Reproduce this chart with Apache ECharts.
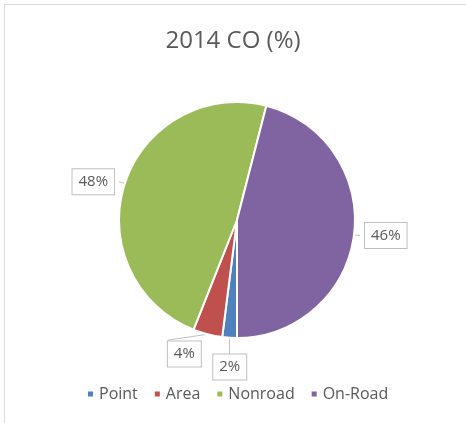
<!DOCTYPE html>
<html>
<head>
<meta charset="utf-8">
<script src="https://cdn.jsdelivr.net/npm/echarts@6/dist/echarts.min.js"></script>
<style>
  html, body { margin: 0; padding: 0; background: #fff; }
  #frame { position: absolute; left: 4px; top: 4px; width: 462px; height: 419px;
           border-top: 1px solid #d9d9d9; border-left: 1px solid #d9d9d9; box-sizing: border-box; }
  #main { position: absolute; left: 0; top: 0; width: 466px; height: 423px; }
</style>
</head>
<body>
<div id="frame"></div>
<div id="main"></div>
<script>
// data
const categories = ["Point", "Area", "Nonroad", "On-Road"];
const shares = [2, 4, 48, 46];
const colors = ["#4F81BD", "#C0504D", "#9BBB59", "#8064A2"];

const chartDom = document.getElementById("main");
const myChart = echarts.init(chartDom);

// nudge the two small-slice callouts closer to their slices, like the original
const labelNudge = { Point: [22, -2], Area: [38, 14] };

const option = {
  animation: false,
  color: colors,
  title: {
    text: "2014 CO (%)",
    left: "center",
    top: 24,
    textStyle: { fontFamily: "Open Sans", fontSize: 24, fontWeight: "normal", color: "#595959" }
  },
  legend: {
    data: categories,
    bottom: 16,
    left: 81,
    icon: "rect",
    itemWidth: 7,
    itemHeight: 7,
    itemGap: 15,
    textStyle: { fontFamily: "Open Sans", fontSize: 16, color: "#595959" }
  },
  series: [
    {
      type: "pie",
      center: [237, 220],
      radius: 118,
      startAngle: -90,
      clockwise: true,
      itemStyle: { borderColor: "#fff", borderWidth: 2 },
      label: {
        show: true,
        position: "outside",
        formatter: "{d}%",
        fontFamily: "Open Sans",
        fontSize: 15,
        color: "#595959",
        backgroundColor: "#fff",
        borderColor: "#bfbfbf",
        borderWidth: 1,
        padding: [5, 6]
      },
      labelLine: { show: true, length: 6, length2: 0, lineStyle: { color: "#bfbfbf" } },
      labelLayout: function (params) {
        const n = labelNudge[categories[params.dataIndex]];
        return n ? { dx: n[0], dy: n[1] } : {};
      },
      data: categories.map((name, i) => ({ name: name, value: shares[i] }))
    }
  ]
};
option && myChart.setOption(option);
</script>
</body>
</html>
